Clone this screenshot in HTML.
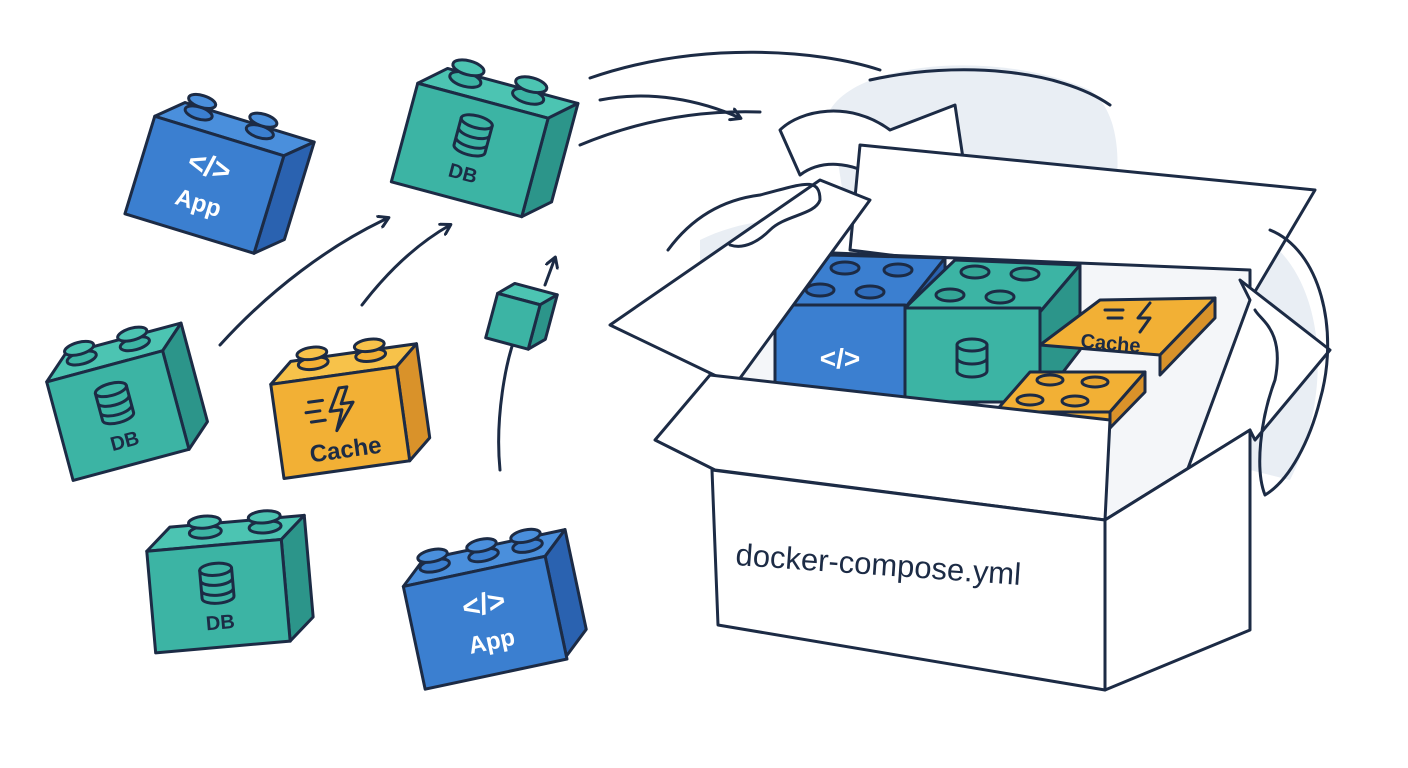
<!DOCTYPE html>
<html><head><meta charset="utf-8"><style>
html,body{margin:0;padding:0;background:#fff}
svg{display:block}
.o{stroke:#1c2b45;stroke-width:3;stroke-linejoin:round;stroke-linecap:round}
.ln{fill:none;stroke:#1c2b45;stroke-width:3;stroke-linecap:round;stroke-linejoin:round}
.lbl{font-family:"Liberation Sans",sans-serif;font-weight:bold;fill:#fff;text-anchor:middle}
.lbld{font-family:"Liberation Sans",sans-serif;font-weight:bold;fill:#1c2b45;text-anchor:middle}
</style></head><body>
<svg width="1408" height="768" viewBox="0 0 1408 768" xmlns="http://www.w3.org/2000/svg">
<defs>
<marker id="ah" markerWidth="14" markerHeight="14" refX="10" refY="7" orient="auto" markerUnits="userSpaceOnUse">
<path d="M1,1 L11,7 L1,13" fill="none" stroke="#1c2b45" stroke-width="3" stroke-linecap="round" stroke-linejoin="round"/>
</marker>
</defs>

<path d="M830,110 C860,60 1000,50 1090,90 C1130,120 1120,200 1100,260 L850,240 Z" fill="#e9eef4"/>
<path d="M1250,230 C1320,260 1340,380 1290,480 L1250,470 Z" fill="#e9eef4"/>
<path d="M700,240 C740,220 790,215 820,225 L760,330 L700,330 Z" fill="#e9eef4"/>

<path class="ln" d="M590,78 C700,40 820,50 880,70"/>
<path class="ln" d="M600,100 C650,90 700,100 740,118" marker-end="url(#ah)"/>
<path class="ln" d="M580,145 C640,120 700,110 760,112"/>
<path class="ln" d="M870,80 C960,60 1060,70 1110,105"/>
<path class="o" fill="#fff" d="M780,130 C800,110 850,100 890,130 L955,105 L975,238 L860,200 L880,180 C850,160 820,160 800,175 Z"/>

<path class="ln" d="M220,345 C270,290 330,245 388,218" marker-end="url(#ah)"/>
<path class="ln" d="M362,305 C385,275 415,245 450,225" marker-end="url(#ah)"/>
<path class="ln" d="M500,470 C495,420 505,360 518,330"/>
<path class="ln" d="M545,285 L555,258" marker-end="url(#ah)"/>

<g transform="translate(520,318) rotate(15)">
<polygon class="o" fill="#4cc4b2" points="-28,-18 -14,-32 30,-32 16,-18"/>
<polygon class="o" fill="#2c958a" points="16,-18 30,-32 30,14 16,28"/>
<rect class="o" fill="#3cb4a4" x="-28" y="-18" width="44" height="46"/>
</g>

<g transform="translate(210,175) rotate(17)">
<polygon class="o" fill="#4a8fdc" points="-70,-40 -45,-62 90,-62 65,-40"/>
<polygon class="o" fill="#2a62b0" points="65,-40 90,-62 90,40 65,62"/>
<rect class="o" fill="#3b7fd0" x="-70" y="-40" width="135" height="102"/>
<g class="o" fill="#3b7fd0"><ellipse cx="-29" cy="-56" rx="14" ry="6"/><ellipse cx="-29" cy="-68" rx="14" ry="6" fill="#4a8fdc"/>
<ellipse cx="35" cy="-56" rx="14" ry="6"/><ellipse cx="35" cy="-68" rx="14" ry="6" fill="#4a8fdc"/></g>
<text class="lbl" x="-3" y="2" font-size="30">&lt;/&gt;</text>
<text class="lbl" x="-3" y="38" font-size="24">App</text>
</g>

<g transform="translate(475,140) rotate(15)">
<polygon class="o" fill="#4cc4b2" points="-70,-40 -45,-62 90,-62 65,-40"/>
<polygon class="o" fill="#2c958a" points="65,-40 90,-62 90,40 65,62"/>
<rect class="o" fill="#3cb4a4" x="-70" y="-40" width="135" height="102"/>
<g class="o" fill="#3cb4a4"><ellipse cx="-25" cy="-56" rx="16" ry="7"/><ellipse cx="-25" cy="-68" rx="16" ry="7" fill="#4cc4b2"/>
<ellipse cx="40" cy="-56" rx="16" ry="7"/><ellipse cx="40" cy="-68" rx="16" ry="7" fill="#4cc4b2"/></g>
<g class="ln"><ellipse cx="-3" cy="-18" rx="16" ry="6"/><path d="M-19,-18 v28 a16,6 0 0 0 32,0 v-28 M-19,-8 a16,6 0 0 0 32,0 M-19,2 a16,6 0 0 0 32,0"/></g>
<text class="lbld" x="-3" y="42" font-size="20" font-weight="normal">DB</text>
</g>

<g transform="translate(115,405) rotate(-15)">
<polygon class="o" fill="#4cc4b2" points="-60,-40 -35,-62 85,-62 60,-40"/>
<polygon class="o" fill="#2c958a" points="60,-40 85,-62 85,40 60,62"/>
<rect class="o" fill="#3cb4a4" x="-60" y="-40" width="120" height="102"/>
<g class="o" fill="#3cb4a4"><ellipse cx="-20" cy="-54" rx="15" ry="6"/><ellipse cx="-20" cy="-64" rx="15" ry="6" fill="#4cc4b2"/>
<ellipse cx="35" cy="-54" rx="15" ry="6"/><ellipse cx="35" cy="-64" rx="15" ry="6" fill="#4cc4b2"/></g>
<g class="ln"><ellipse cx="0" cy="-16" rx="16" ry="6"/><path d="M-16,-16 v28 a16,6 0 0 0 32,0 v-28 M-16,-6 a16,6 0 0 0 32,0 M-16,4 a16,6 0 0 0 32,0"/></g>
<text class="lbld" x="0" y="44" font-size="20">DB</text>
</g>

<g transform="translate(340,410) rotate(-8)">
<polygon class="o" fill="#f7c24a" points="-65,-35 -42,-55 85,-55 62,-35"/>
<polygon class="o" fill="#d9922a" points="62,-35 85,-55 85,40 62,60"/>
<rect class="o" fill="#f2b035" x="-65" y="-35" width="127" height="95"/>
<g class="o" fill="#f2b035"><ellipse cx="-20" cy="-50" rx="15" ry="6"/><ellipse cx="-20" cy="-60" rx="15" ry="6" fill="#f7c24a"/>
<ellipse cx="38" cy="-50" rx="15" ry="6"/><ellipse cx="38" cy="-60" rx="15" ry="6" fill="#f7c24a"/></g>
<path class="o" fill="none" d="M2,-22 L-10,0 L2,0 L-6,20 L14,-6 L2,-6 L10,-22 Z M-30,-12 h14 M-34,-2 h14 M-30,8 h14"/>
<text class="lbld" x="0" y="48" font-size="24" font-weight="normal">Cache</text>
</g>

<g transform="translate(220,585) rotate(-5)">
<polygon class="o" fill="#4cc4b2" points="-70,-40 -45,-62 90,-62 65,-40"/>
<polygon class="o" fill="#2c958a" points="65,-40 90,-62 90,40 65,62"/>
<rect class="o" fill="#3cb4a4" x="-70" y="-40" width="135" height="102"/>
<g class="o" fill="#3cb4a4"><ellipse cx="-10" cy="-54" rx="16" ry="6"/><ellipse cx="-10" cy="-64" rx="16" ry="6" fill="#4cc4b2"/>
<ellipse cx="50" cy="-54" rx="16" ry="6"/><ellipse cx="50" cy="-64" rx="16" ry="6" fill="#4cc4b2"/></g>
<g class="ln"><ellipse cx="-3" cy="-16" rx="16" ry="6"/><path d="M-19,-16 v28 a16,6 0 0 0 32,0 v-28 M-19,-6 a16,6 0 0 0 32,0 M-19,4 a16,6 0 0 0 32,0"/></g>
<text class="lbld" x="-3" y="44" font-size="20">DB</text>
</g>

<g transform="translate(485,610) rotate(-12)">
<polygon class="o" fill="#4a8fdc" points="-75,-40 -50,-62 95,-62 70,-40"/>
<polygon class="o" fill="#2a62b0" points="70,-40 95,-62 95,40 70,62"/>
<rect class="o" fill="#3b7fd0" x="-75" y="-40" width="145" height="105"/>
<g class="o" fill="#3b7fd0"><ellipse cx="-40" cy="-54" rx="15" ry="6"/><ellipse cx="-40" cy="-64" rx="15" ry="6" fill="#4a8fdc"/>
<ellipse cx="10" cy="-54" rx="15" ry="6"/><ellipse cx="10" cy="-64" rx="15" ry="6" fill="#4a8fdc"/>
<ellipse cx="55" cy="-54" rx="15" ry="6"/><ellipse cx="55" cy="-64" rx="15" ry="6" fill="#4a8fdc"/></g>
<text class="lbl" x="0" y="4" font-size="30">&lt;/&gt;</text>
<text class="lbl" x="0" y="40" font-size="24">App</text>
</g>

<!-- BOX -->
<path class="o" fill="#fff" d="M860,145 L1315,190 L1250,300 L850,250 Z"/>
<path class="o" fill="#f4f6f9" d="M760,250 L1250,270 L1250,430 L1105,520 L715,470 Z"/>
<!-- inner blocks -->
<g class="o">
<polygon fill="#3b7fd0" points="775,305 830,255 945,258 905,308"/>
<polygon fill="#2a62b0" points="905,308 945,258 945,352 905,400"/>
<rect fill="#3b7fd0" x="775" y="305" width="130" height="95"/>
<polygon fill="#3cb4a4" points="905,308 955,260 1080,265 1040,312"/>
<polygon fill="#2c958a" points="1040,312 1080,265 1080,350 1040,402"/>
<rect fill="#3cb4a4" x="905" y="308" width="135" height="94"/>
<polygon fill="#f2b035" points="1040,345 1100,300 1215,298 1160,355"/>
<polygon fill="#d9922a" points="1160,355 1215,298 1215,318 1160,375"/>
<polygon fill="#f2b035" points="995,412 1030,372 1145,372 1110,412"/>
<polygon fill="#d9922a" points="1110,412 1145,372 1145,392 1110,428"/>
<polygon fill="#f2b035" points="995,412 1110,412 1110,428 995,420"/>
</g>
<g class="o" fill="#2f6dbd">
<ellipse cx="845" cy="268" rx="14" ry="6"/><ellipse cx="898" cy="270" rx="14" ry="6"/><ellipse cx="820" cy="290" rx="14" ry="6"/><ellipse cx="870" cy="292" rx="14" ry="6"/></g>
<g class="o" fill="#34a696">
<ellipse cx="975" cy="272" rx="14" ry="6"/><ellipse cx="1025" cy="274" rx="14" ry="6"/><ellipse cx="950" cy="295" rx="14" ry="6"/><ellipse cx="1000" cy="297" rx="14" ry="6"/></g>
<g class="o" fill="#e8a52e"><ellipse cx="1050" cy="380" rx="13" ry="5"/><ellipse cx="1095" cy="382" rx="13" ry="5"/><ellipse cx="1030" cy="400" rx="13" ry="5"/><ellipse cx="1075" cy="401" rx="13" ry="5"/></g>
<path class="ln" d="M1150,303 L1138,318 L1150,318 L1140,332 M1105,310 h18 M1108,318 h14"/>
<text class="lbld" x="1110" y="350" font-size="20" font-weight="normal" transform="rotate(5 1110 350)">Cache</text>
<text class="lbl" x="840" y="368" font-size="28" font-weight="normal">&lt;/&gt;</text>
<g class="ln"><ellipse cx="972" cy="345" rx="15" ry="6"/><path d="M957,345 v26 a15,6 0 0 0 30,0 v-26 M957,358 a15,6 0 0 0 30,0"/></g>

<path class="o" fill="#fff" d="M610,325 L820,180 L870,200 L735,385 Z"/>
<path class="o" fill="#fff" d="M715,470 L655,440 L710,375 L1110,420 L1105,520 Z"/>
<path class="o" fill="#fff" d="M1250,300 L1240,280 L1330,350 L1255,440 L1250,430 L1105,520 L1180,490 Z"/>
<path class="o" fill="#fff" d="M712,470 L1105,520 L1105,690 L718,625 Z"/>
<path class="o" fill="#fff" d="M1105,520 L1250,430 L1250,630 L1105,690 Z"/>
<text x="735" y="565" font-family="Liberation Sans,sans-serif" font-size="31" fill="#1c2b45" transform="rotate(4 735 565)">docker-compose.yml</text>

<path class="ln" d="M668,250 C690,220 720,200 760,195 C800,185 820,175 820,200 C815,215 785,215 770,230 C760,240 745,250 730,245"/>
<path class="ln" d="M1270,230 C1320,250 1340,330 1320,400 C1310,440 1290,480 1265,495 C1255,470 1260,420 1275,380 C1285,330 1260,320 1255,310"/>
</svg>
</body></html>
